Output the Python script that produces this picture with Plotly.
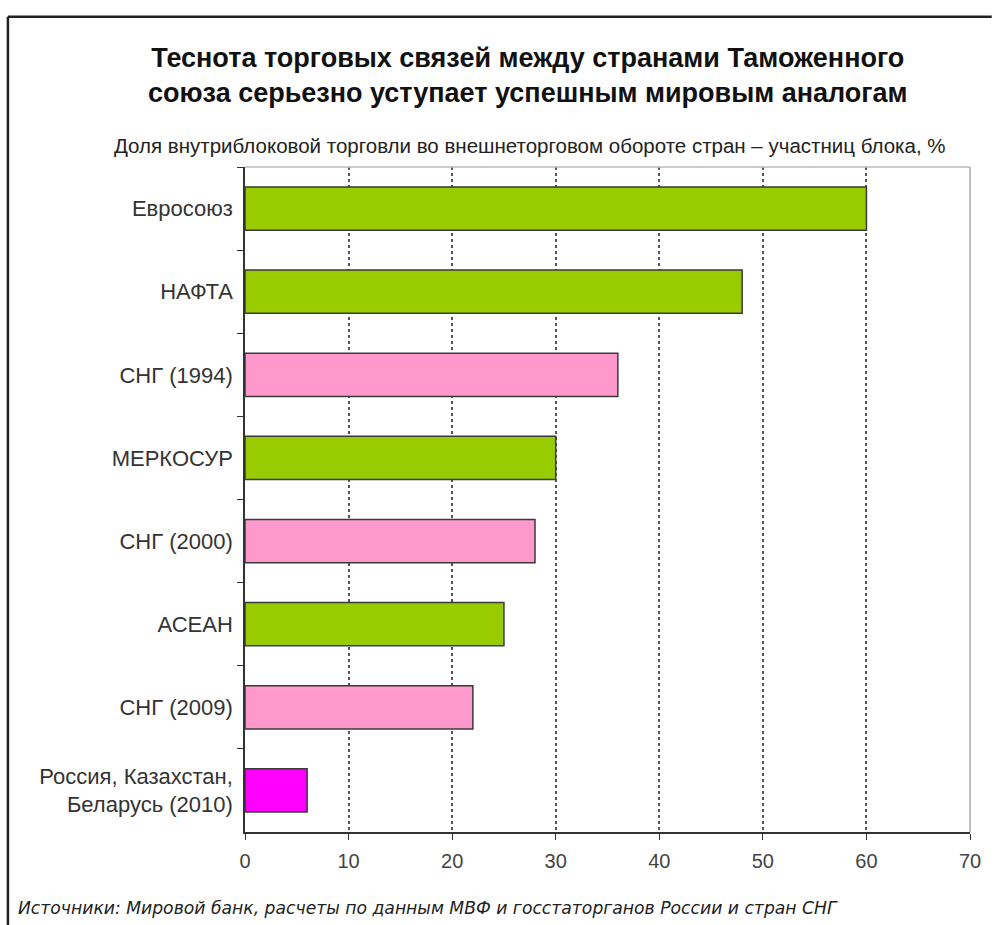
import plotly.graph_objects as go

# Intra-bloc trade share, % of member countries' foreign trade turnover
blocs = [
    "Евросоюз",
    "НАФТА",
    "СНГ (1994)",
    "МЕРКОСУР",
    "СНГ (2000)",
    "АСЕАН",
    "СНГ (2009)",
    "Россия, Казахстан,<br>Беларусь (2010)",
]
shares = [60, 48, 36, 30, 28, 25, 22, 6]
group = ["world", "world", "cis", "world", "cis", "world", "cis", "cu"]

palette = {"world": "#99CC00", "cis": "#FF99CC", "cu": "#FF00FF"}
bar_colors = [palette[g] for g in group]

x_ticks = [0, 10, 20, 30, 40, 50, 60, 70]

title_text = ("<b>Теснота торговых связей между странами Таможенного<br>"
              "союза серьезно уступает успешным мировым аналогам</b>")
subtitle_text = ("Доля внутриблоковой торговли во внешнеторговом обороте "
                 "стран – участниц блока, %")
source_text = ("Источники: Мировой банк, расчеты по данным МВФ и "
               "госстаторганов России и стран СНГ")

fig = go.Figure(
    go.Bar(
        x=shares,
        y=blocs,
        orientation="h",
        marker=dict(color=bar_colors, line=dict(color="#3a3a3a", width=1.5)),
        hoverinfo="x+y",
    )
)

font_family = "Liberation Sans, Arial, sans-serif"

fig.update_layout(
    width=993,
    height=925,
    margin=dict(l=245, r=21, t=167, b=93),
    paper_bgcolor="white",
    plot_bgcolor="white",
    showlegend=False,
    bargap=0.48,
    font=dict(family=font_family, color="#333333", size=19),
    xaxis=dict(
        range=[0, 70],
        tickvals=x_ticks,
        ticks="outside",
        ticklen=6,
        tickcolor="#333333",
        showline=True,
        linecolor="#333333",
        linewidth=1.5,
        showgrid=True,
        gridcolor="#555555",
        griddash="dot",
        gridwidth=1.5,
        zeroline=False,
        ticklabelstandoff=4,
        tickfont=dict(size=20, color="#444444"),
        mirror=False,
    ),
    yaxis=dict(
        categoryorder="array",
        categoryarray=blocs,
        autorange="reversed",
        ticks="outside",
        tickson="boundaries",
        ticklen=6,
        tickcolor="#333333",
        showline=True,
        linecolor="#333333",
        linewidth=1.5,
        showgrid=False,
        ticklabelstandoff=6,
        tickfont=dict(size=22, color="#333333"),
    ),
    shapes=[
        # light frame on the top and right of the plotting area
        dict(type="line", xref="paper", yref="paper", x0=0, x1=1, y0=1, y1=1,
             line=dict(color="#bbbbbb", width=1.5)),
        dict(type="line", xref="paper", yref="paper", x0=1, x1=1, y0=0, y1=1,
             line=dict(color="#aaaaaa", width=1.5)),
        # outer frame of the picture (top and left edges)
        dict(type="line", xref="paper", yref="paper",
             x0=-0.327, x1=1.03, y0=1.226, y1=1.226,
             line=dict(color="#222222", width=2.5)),
        dict(type="line", xref="paper", yref="paper",
             x0=-0.327, x1=-0.327, y0=-0.2, y1=1.226,
             line=dict(color="#222222", width=2.5)),
    ],
    annotations=[
        dict(text=title_text, xref="paper", yref="paper", x=0.39, y=1.19,
             xanchor="center", yanchor="top", showarrow=False, align="center",
             font=dict(size=27, color="#111111", family=font_family)),
        dict(text=subtitle_text, xref="paper", yref="paper", x=0.393, y=1.033,
             xanchor="center", yanchor="middle", showarrow=False,
             font=dict(size=20.5, color="#222222", family=font_family)),
        dict(text="<i>" + source_text + "</i>", xref="paper", yref="paper",
             x=-0.316, y=-0.115, xanchor="left", yanchor="middle",
             showarrow=False,
             font=dict(size=17.2, color="#222222",
                       family="DejaVu Sans, Verdana, sans-serif")),
    ],
)

fig.write_html("out.html")
